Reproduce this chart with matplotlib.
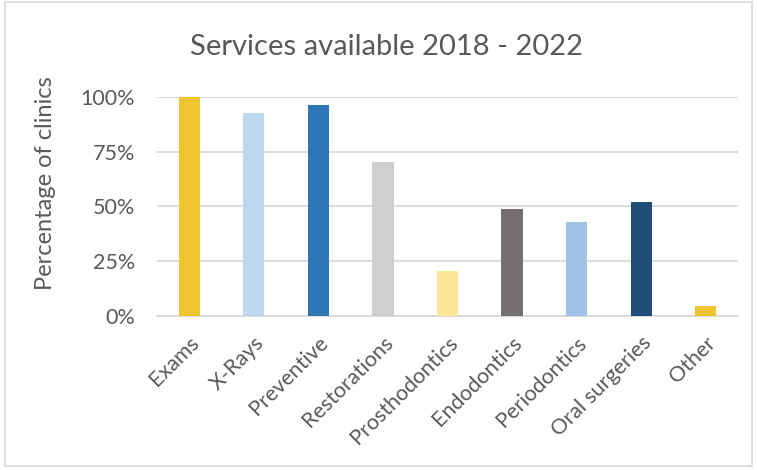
import matplotlib.pyplot as plt
from matplotlib.patches import Rectangle
from matplotlib.ticker import PercentFormatter

services = ["Exams", "X-Rays", "Preventive", "Restorations", "Prosthodontics",
            "Endodontics", "Periodontics", "Oral surgeries", "Other"]
pct_clinics = [100, 92.7, 96.3, 70.3, 20.4, 48.8, 42.8, 52.0, 4.7]
bar_colors = ["#F0C330", "#BDD7EE", "#2E75B6", "#D0CECE", "#FFE699",
              "#767171", "#9DC3E6", "#1F4E79", "#F0C330"]

plt.rcParams['font.family'] = ['Lato', 'DejaVu Sans']
text_col = "#595959"

fig = plt.figure(figsize=(7.57, 4.70), dpi=100)
ax = fig.add_axes([0.2074, 0.3277, 0.7675, 0.466])

x = range(len(services))
ax.bar(x, pct_clinics, width=0.33, color=bar_colors, zorder=3)

ax.set_xlim(-0.5, len(services) - 0.5)
ax.set_ylim(0, 100)
ax.set_yticks([0, 25, 50, 75, 100])
ax.yaxis.set_major_formatter(PercentFormatter(decimals=0))
ax.grid(axis='y', color="#D9D9D9", linewidth=1.3, zorder=0)
for s in ['top', 'right', 'left']:
    ax.spines[s].set_visible(False)
ax.spines['bottom'].set_color("#D9D9D9")
ax.spines['bottom'].set_linewidth(1.3)
ax.tick_params(length=0, colors=text_col, labelsize=15.5)
ax.tick_params(axis='y', pad=16)
ax.tick_params(axis='x', pad=12)
ax.set_xticks(list(x))
ax.set_xticklabels(services, rotation=45, ha='right', rotation_mode='anchor')

fig.text(0.06, 0.61, "Percentage of clinics", rotation=90, ha='center', va='center',
         color=text_col, fontsize=17)
fig.text(0.51, 0.9, "Services available 2018 - 2022", ha='center', va='center',
         color=text_col, fontsize=21)

# chart area border
fig.patches.append(Rectangle((0.006, 0.008), 0.988, 0.988, transform=fig.transFigure,
                             fill=False, edgecolor="#D9D9D9", linewidth=1.2))

fig.savefig("out.png", dpi=100)
